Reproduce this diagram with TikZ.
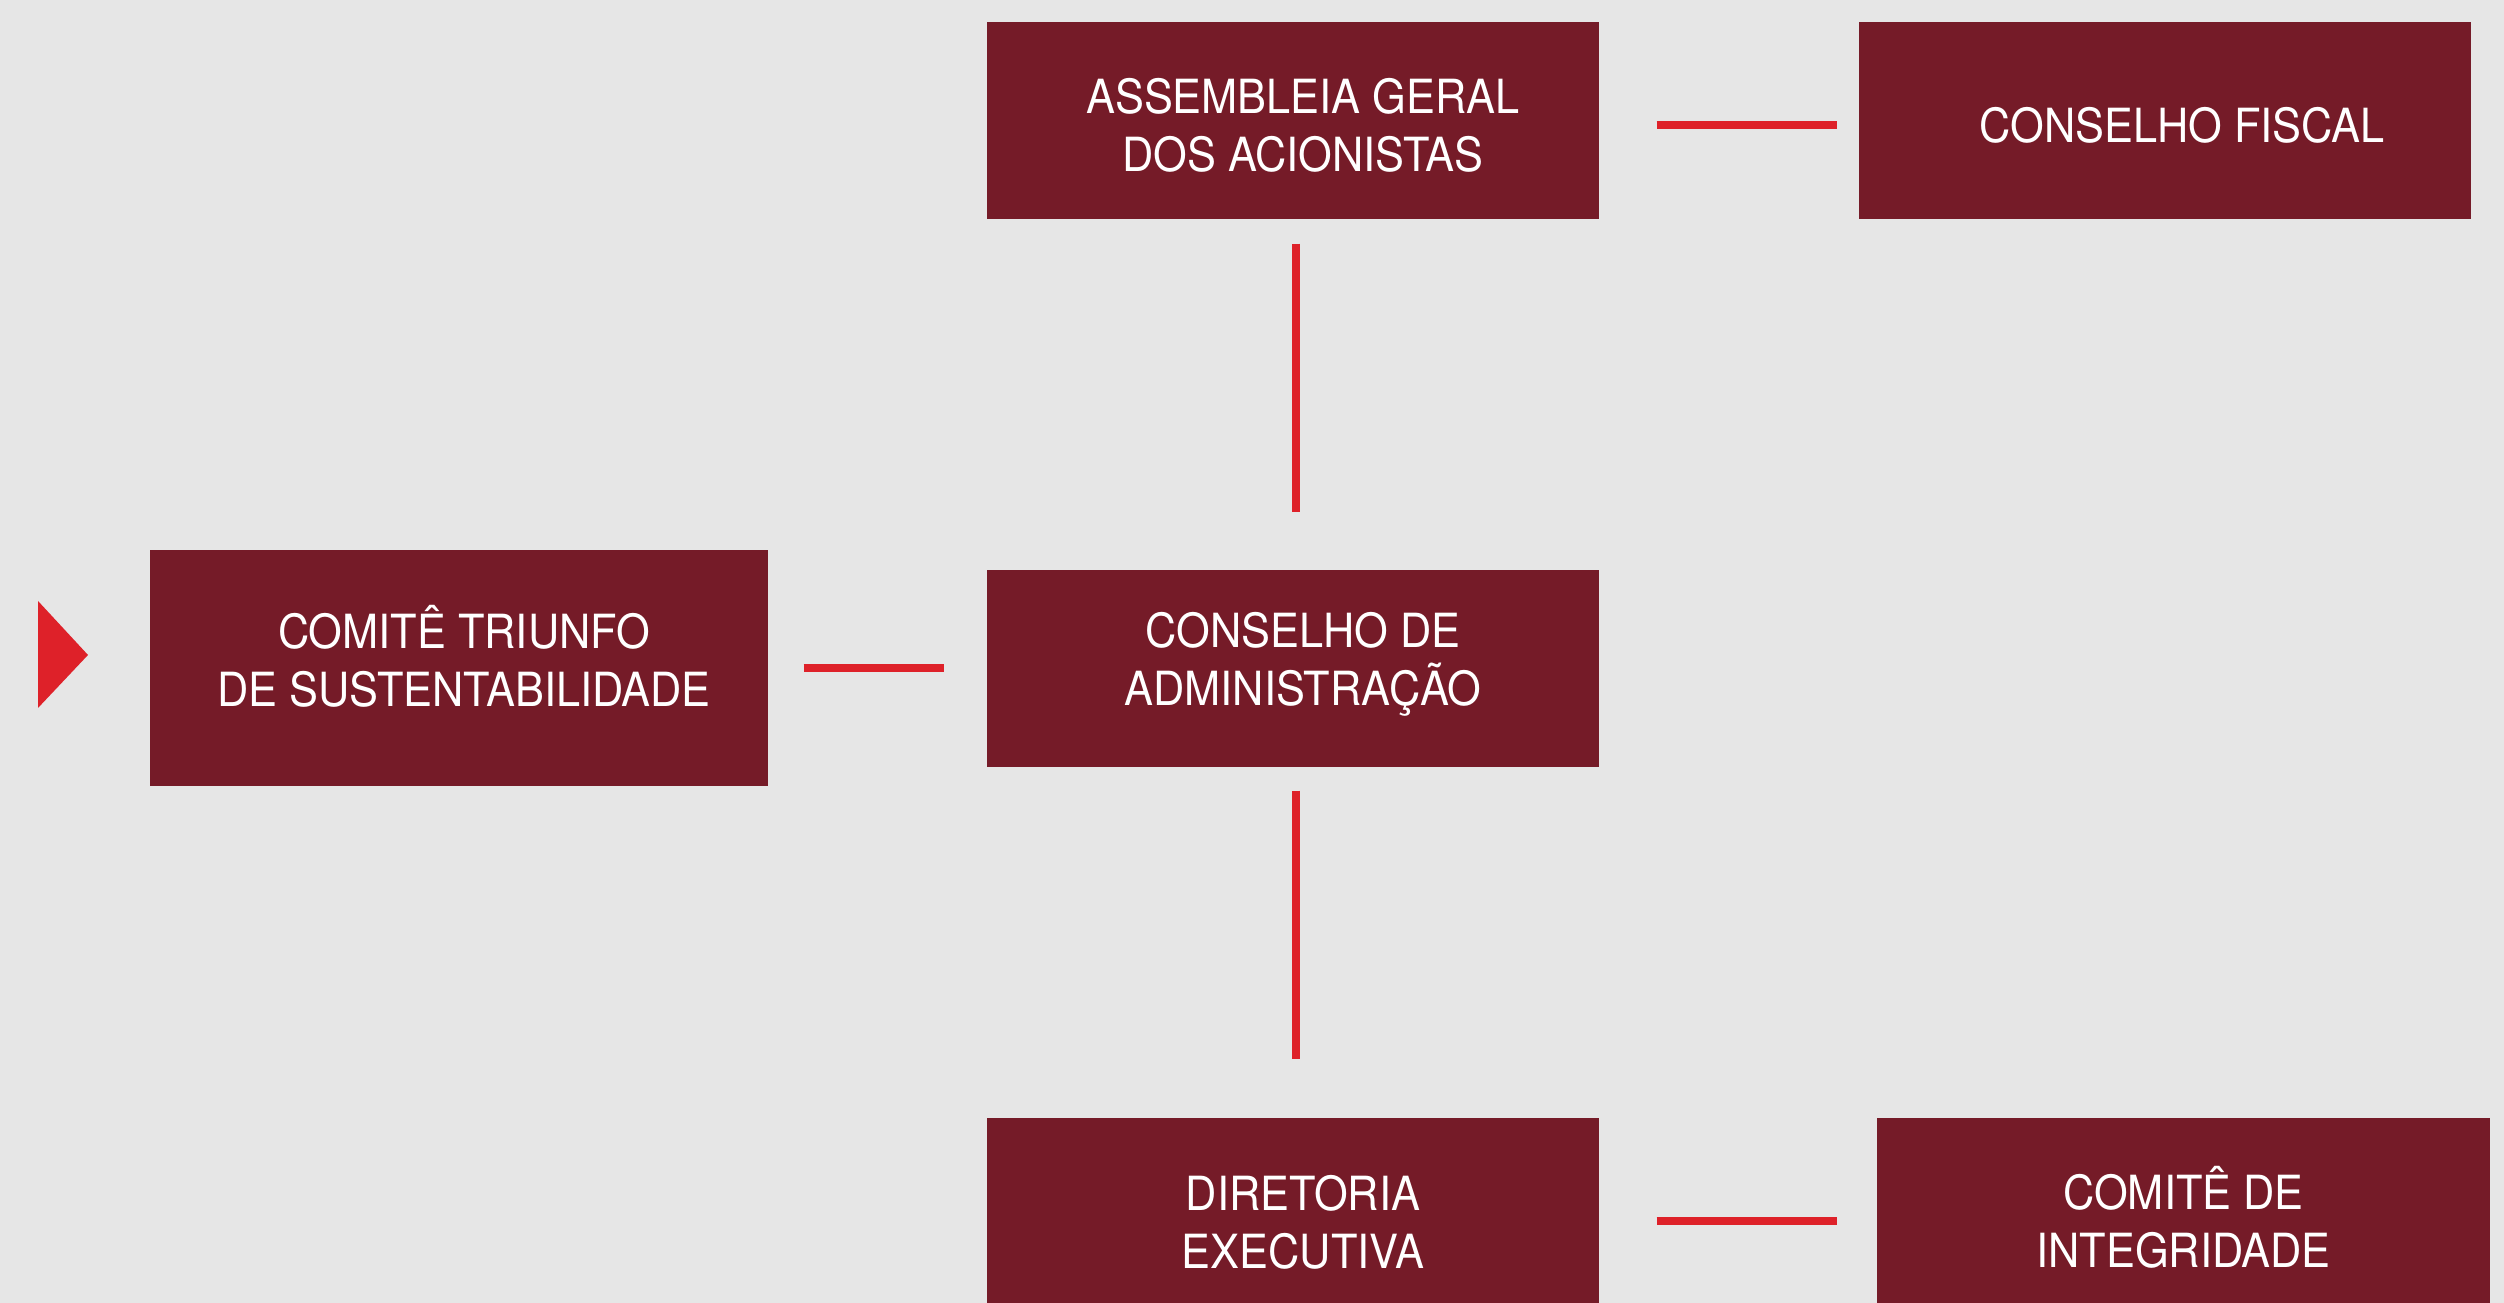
\documentclass[tikz,border=0pt]{standalone}
\usepackage{fontspec}
\setmainfont{TeX Gyre Heros}[FakeStretch=0.92]
\usepackage{tikz}

\definecolor{bgGray}{RGB}{230,230,230}
\definecolor{boxRed}{RGB}{117,27,40}
\definecolor{lineRed}{RGB}{222,33,41}

\tikzset{
	orgbox/.style={fill=boxRed, inner sep=0pt,
		minimum width=6.12cm, minimum height=1.97cm},
	boxtext/.style={text=white, inner sep=0pt, align=center,
		font=\fontsize{13.4}{16.5}\selectfont},
	link/.style={draw=lineRed, line width=0.08cm},
}

\begin{document}
\begin{tikzpicture}
	\newcommand\longgap{0.57}

	% 背景与裁剪
	\useasboundingbox (0, 0) rectangle (25.04, 13.03);
	\clip (0, 0) rectangle (25.04, 13.03);
	\fill[bgGray] (0, 0) rectangle (25.04, 13.03);

	% 各个方框
	\node[orgbox] (ag) at (12.93, 11.825) {};
	\node[orgbox] (cf) at (21.65, 11.825) {};
	\node[orgbox] (ca) at (12.93, 6.345) {};
	\node[orgbox, minimum width=6.18cm, minimum height=2.36cm] (ct) at (4.59, 6.345) {};
	\node[orgbox] (de) at (12.93, 0.865) {};
	\node[orgbox, minimum width=6.13cm] (ci) at (21.835, 0.865) {};

	% 方框里的文字
	\node[boxtext] (agText) at ([xshift=0.1cm, yshift=-0.05cm]ag) {ASSEMBLEIA GERAL\\DOS ACIONISTAS};
	\node[boxtext] (cfText) at ([xshift=0.17cm, yshift=-0.05cm]cf) {CONSELHO FISCAL};
	\node[boxtext] (caText) at ([xshift=0.1cm, yshift=0.04cm]ca) {CONSELHO DE\\ADMINISTRAÇÃO};
	\node[boxtext] (ctText) at ([xshift=0.05cm, yshift=0.12cm]ct) {COMITÊ TRIUNFO\\DE SUSTENTABILIDADE};
	\node[boxtext] (deText) at ([xshift=0.1cm, yshift=-0.06cm]de) {DIRETORIA\\EXECUTIVA};
	\node[boxtext] (ciText) at ([yshift=-0.01cm]ci) {COMITÊ DE\\INTEGRIDADE};

	% 连线
	\draw[link, shorten <=\longgap cm, shorten >=0.21cm]
		([yshift=-0.05cm]ag.east) -- ([yshift=-0.05cm]cf.west);
	\draw[link, shorten <=0.24cm, shorten >=\longgap cm]
		([xshift=0.03cm]ag.south) -- ([xshift=0.03cm]ca.north);
	\draw[link, shorten <=0.23cm, shorten >=0.58cm]
		([xshift=0.03cm]ca.south) -- ([xshift=0.03cm]de.north);
	\draw[link, shorten <=0.35cm, shorten >=0.42cm] (ct) -- (ca);
	\draw[link, shorten <=\longgap cm, shorten >=0.39cm]
		([yshift=-0.045cm]de.east) -- ([yshift=-0.045cm]ci.west);

	% 左边的三角形
	\fill[lineRed] (0.38, 7.02) -- (0.88, 6.48) -- (0.38, 5.95) -- cycle;
\end{tikzpicture}
\end{document}
